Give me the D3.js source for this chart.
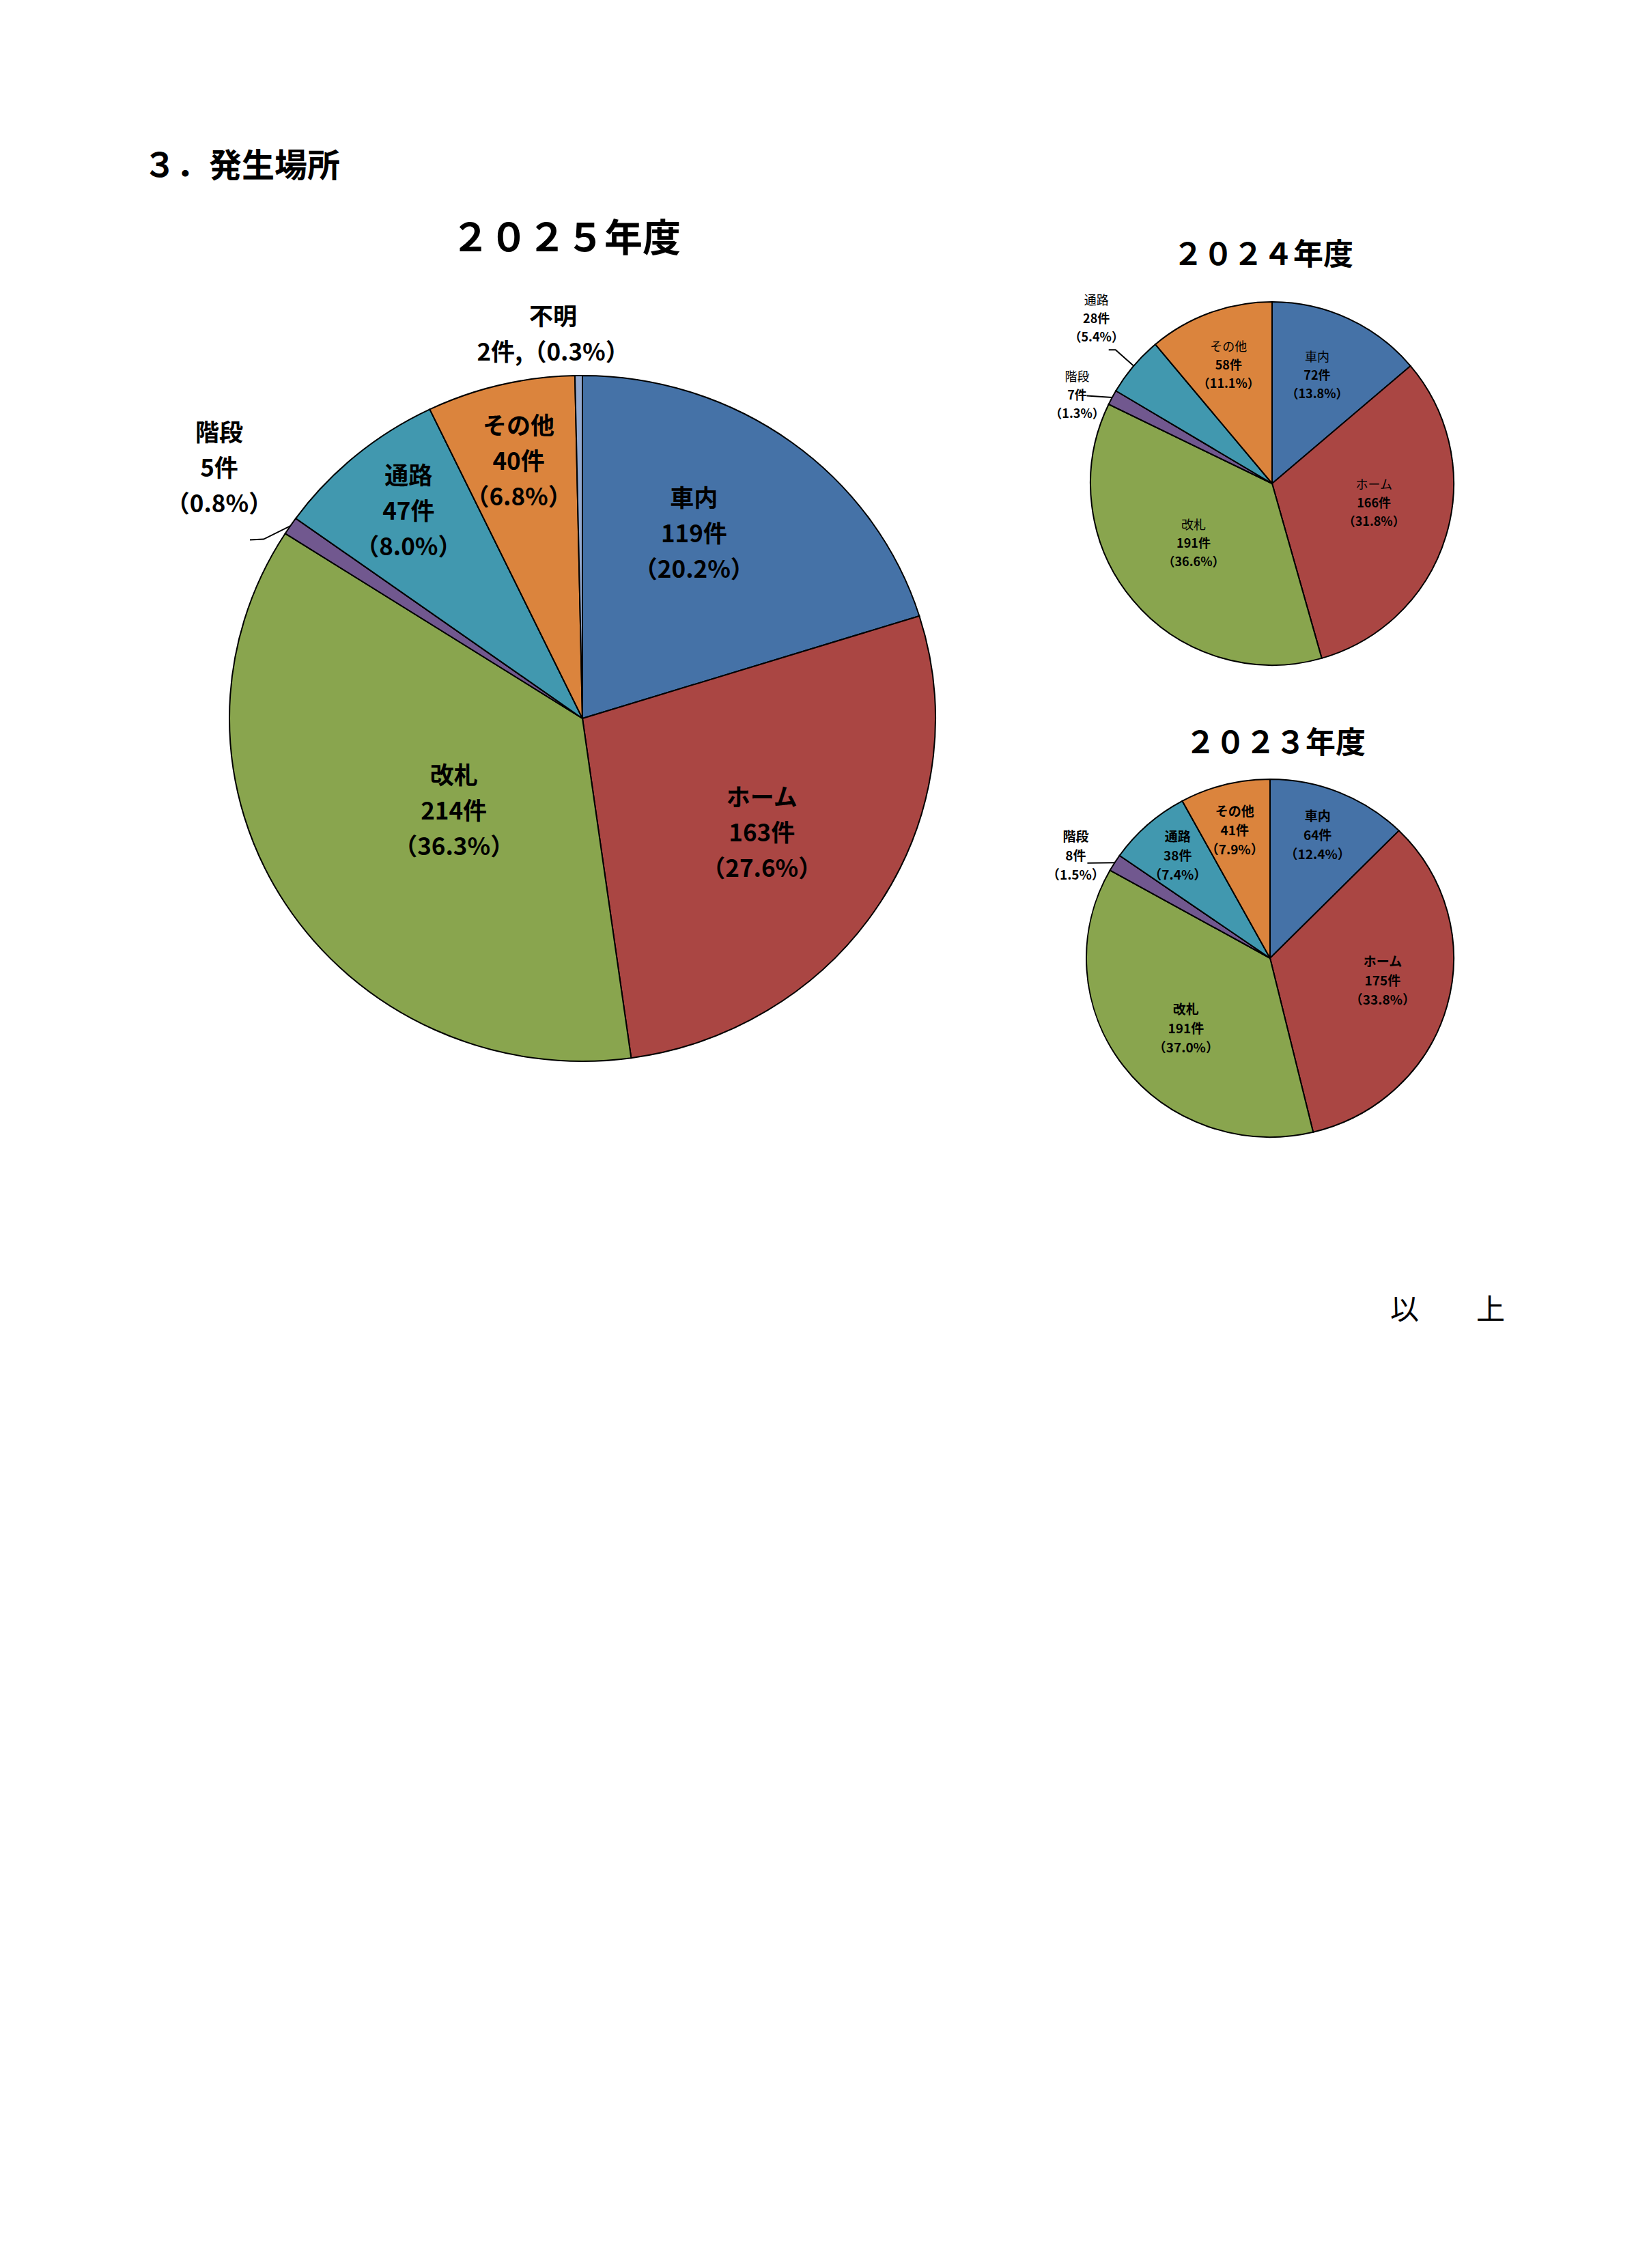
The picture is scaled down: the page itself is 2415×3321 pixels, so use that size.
<!DOCTYPE html>
<html>
<head>
<meta charset="utf-8">
<script src="https://cdn.jsdelivr.net/npm/d3@7"></script>
<style>
  body { margin: 0; background: #fff; }
  text { font-family: "Noto Sans CJK JP", sans-serif; fill: #000; }
</style>
</head>
<body>
<script>
// categories and the values
var categories = ["車内", "ホーム", "改札", "階段", "通路", "その他", "不明"];
var colors = ["#4572A7", "#AA4643", "#89A54E", "#71588F", "#4198AF", "#DB843D", "#93A9CF"];

var counts2025 = [119, 163, 214, 5, 47, 40, 2];
var pct2025 = ["20.2", "27.6", "36.3", "0.8", "8.0", "6.8", "0.3"];

var counts2024 = [72, 166, 191, 7, 28, 58, 0];
var pct2024 = ["13.8", "31.8", "36.6", "1.3", "5.4", "11.1", ""];

var counts2023 = [64, 175, 191, 8, 38, 41, 0];
var pct2023 = ["12.4", "33.8", "37.0", "1.5", "7.4", "7.9", ""];

// layout of each pie: centre, radii, title and label placement
// labels: [radius fraction, angle shift in degrees]; leaders: offsets from label centre
var charts = [
  {
    title: "２０２５年度", counts: counts2025, pct: pct2025,
    cx: 853, cy: 1052, rx: 517, ry: 502,
    titleX: 829, titleY: 343, titleSize: 56,
    fontSize: 35, lineH: 52, nameWeight: 700,
    labels: {
      "車内": [0.63, -6.2], "ホーム": [0.605, 0.5], "改札": [0.45, -3.3],
      "階段": [1.265, 1.4], "通路": [0.785, 1.1], "その他": [0.778, 0],
      "不明": [1.13, -3.6]
    },
    leaders: { "階段": [[45, 108], [65, 107]] }
  },
  {
    title: "２０２４年度", counts: counts2024, pct: pct2024,
    cx: 1863, cy: 708, rx: 266, ry: 266,
    titleX: 1850, titleY: 369, titleSize: 44,
    fontSize: 18, lineH: 27, nameWeight: 400,
    labels: {
      "車内": [0.65, -2.4], "ホーム": [0.57, -6.6], "改札": [0.54, 3.2],
      "階段": [1.18, -3.7], "通路": [1.33, 3.0], "その他": [0.70, 0]
    },
    leaders: { "通路": [[18, 47], [28, 47]], "階段": [[14, 2]] }
  },
  {
    title: "２０２３年度", counts: counts2023, pct: pct2023,
    cx: 1860, cy: 1403, rx: 269, ry: 262,
    titleX: 1868, titleY: 1084, titleSize: 44,
    fontSize: 19, lineH: 28, nameWeight: 700,
    labels: {
      "車内": [0.74, -1.8], "ホーム": [0.625, -4.3], "改札": [0.6, -3.2],
      "階段": [1.205, -3.6], "通路": [0.765, 0.7], "その他": [0.745, -0.7]
    },
    leaders: { "階段": [[17, 12]] }
  }
];

var svg = d3.select("body")
            .append("svg")
            .attr("width", 2415)
            .attr("height", 3321);

svg.append("rect")
   .attr("width", 2415)
   .attr("height", 3321)
   .attr("fill", "#fff");

// section heading
svg.append("text")
   .attr("x", 210)
   .attr("y", 238)
   .attr("dominant-baseline", "central")
   .style("font-size", "48px")
   .style("font-weight", 700)
   .text("３．発生場所");

// closing mark
svg.append("text")
   .attr("x", 2036)
   .attr("y", 1913)
   .attr("dominant-baseline", "central")
   .style("font-size", "42px")
   .style("font-weight", 400)
   .text("以　　上");

var pie = d3.pie().sort(null).value(function(d) { return d.v; });

charts.forEach(function(c) {
  var data = categories.map(function(name, i) {
    return { name: name, v: c.counts[i], pct: c.pct[i], color: colors[i] };
  }).filter(function(d) { return d.v > 0; });

  var arcs = pie(data);
  var arc = d3.arc().innerRadius(0).outerRadius(c.rx);

  // title
  svg.append("text")
     .attr("x", c.titleX)
     .attr("y", c.titleY)
     .attr("text-anchor", "middle")
     .attr("dominant-baseline", "central")
     .style("font-size", c.titleSize + "px")
     .style("font-weight", 700)
     .text(c.title);

  // slices, squeezed to the ellipse of the picture
  svg.append("g")
     .attr("transform", "translate(" + c.cx + "," + c.cy + ") scale(1," + (c.ry / c.rx) + ")")
     .selectAll("path")
     .data(arcs)
     .enter()
     .append("path")
     .attr("d", arc)
     .attr("fill", function(d) { return d.data.color; })
     .attr("stroke", "#000")
     .attr("stroke-width", 2)
     .attr("vector-effect", "non-scaling-stroke");

  // point on the pie at angle a and radius fraction f
  function polar(a, f) {
    return [c.cx + f * c.rx * Math.sin(a), c.cy - f * c.ry * Math.cos(a)];
  }

  arcs.forEach(function(d) {
    var pos = c.labels[d.data.name];
    if (!pos) return;
    var mid = (d.startAngle + d.endAngle) / 2;
    var p = polar(mid + pos[1] * Math.PI / 180, pos[0]);

    var lines;
    if (d.data.name === "不明") {
      lines = [d.data.name, d.data.v + "件,（" + d.data.pct + "%）"];
    } else {
      lines = [d.data.name, d.data.v + "件", "（" + d.data.pct + "%）"];
    }

    lines.forEach(function(t, j) {
      svg.append("text")
         .attr("x", p[0])
         .attr("y", p[1] + (j - (lines.length - 1) / 2) * c.lineH)
         .attr("text-anchor", "middle")
         .attr("dominant-baseline", "central")
         .style("font-size", c.fontSize + "px")
         .style("font-weight", j === 0 ? c.nameWeight : 700)
         .text(t);
    });

    // leader line from the label to the slice edge
    var lead = c.leaders[d.data.name];
    if (lead) {
      var pts = lead.map(function(o) { return [p[0] + o[0], p[1] + o[1]]; });
      pts.push(polar(mid, 1));
      svg.append("path")
         .attr("d", d3.line()(pts))
         .attr("fill", "none")
         .attr("stroke", "#000")
         .attr("stroke-width", 2);
    }
  });
});
</script>
</body>
</html>
